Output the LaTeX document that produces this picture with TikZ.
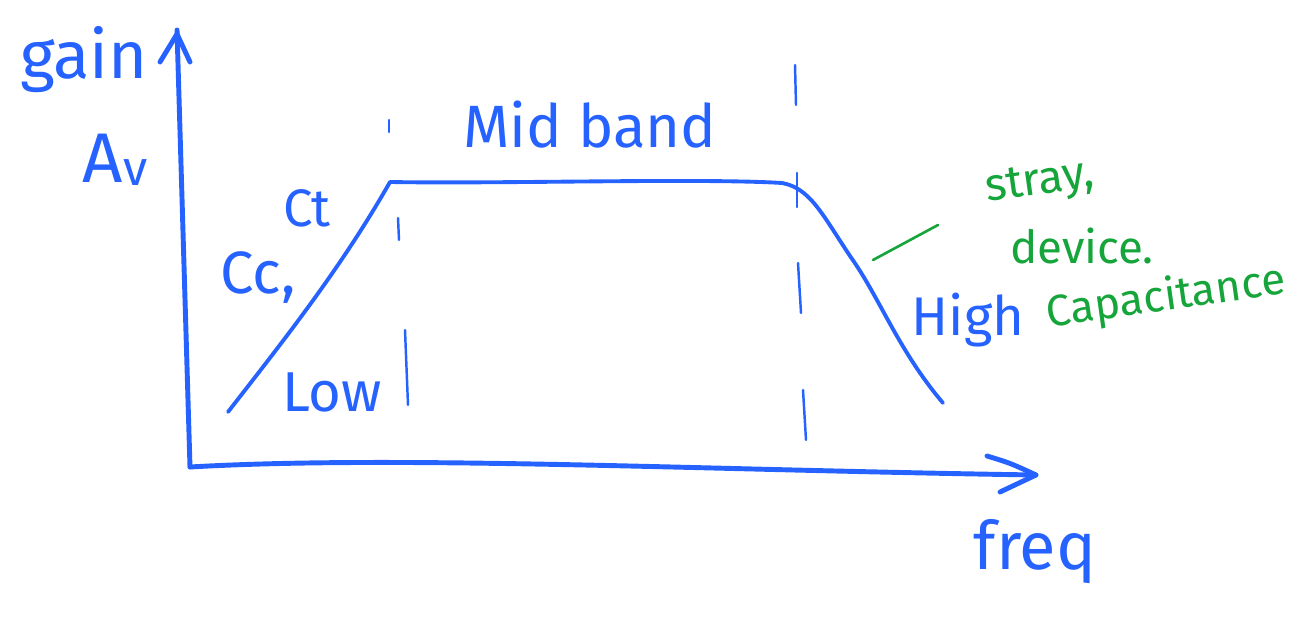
\documentclass[tikz,border=0pt]{standalone}
\usepackage{fontspec}
\setmainfont{Fira Sans}
\begin{document}
\begin{tikzpicture}[x=0.02cm,y=-0.02cm,
  ink/.style={draw=penblue,line cap=round,line join=round},
  axis/.style={ink,line width=2.8pt},
  curve/.style={ink,line width=2.2pt},
  dashmark/.style={ink,line width=1.4pt},
  bluetext/.style={text=penblue,inner sep=0pt},
  greentext/.style={text=pengreen,inner sep=0pt},
  fs/.style={font=\fontsize{#1}{#1}\selectfont}]
\definecolor{penblue}{RGB}{38,98,255}
\definecolor{pengreen}{RGB}{22,165,58}
\useasboundingbox (0,0) rectangle (1302,624);
% axes
\coordinate (O) at (190,467);
\coordinate (ytop) at (177,30);
\coordinate (xend) at (1036,475);
\draw[axis] (O) -- (ytop);
\draw[axis] (160,62) -- (177,34) -- (190,62);
\draw[axis] (O) .. controls (400,455) and (700,470) .. (xend);
\draw[axis] (987,456) .. controls (1010,463) .. (xend) -- (1000,492);
% response curve
\draw[curve] (228,412) .. controls (280,345) and (340,270) .. (390,182);
\draw[curve] (390,182) .. controls (500,184) and (700,178) .. (782,183)
  .. controls (810,188) and (822,214) .. (850,256)
  .. controls (880,298) and (898,350) .. (943,403);
% dashed verticals
\draw[dashmark] (389,120) -- (389,132);
\draw[dashmark] (398,218) -- (399,240);
\draw[dashmark] (405,330) -- (408,405);
\draw[dashmark] (795,65) -- (796,105);
\draw[dashmark] (797,173) -- (797,207);
\draw[dashmark] (798,263) -- (801,313);
\draw[dashmark] (803,390) -- (806,440);
% labels
\node[bluetext,fs=38] (gain) at (84,60) {gain};
\node[bluetext,fs=40] (Av) at (115,160) {A\raisebox{-2pt}{\fontsize{28}{28}\selectfont v}};
\node[bluetext,fs=34] (mid) at (590,125) {Mid band};
\node[bluetext,fs=34] (Cc) at (258,278) {Cc,};
\node[bluetext,fs=30] (Ct) at (307,208) {Ct};
\node[bluetext,fs=32] (low) at (332,392) {Low};
\node[bluetext,fs=31] (high) at (968,320) {High};
\node[bluetext,fs=38] (freq) at (1035,552) {freq};
\node[greentext,fs=26,rotate=8] (stray) at (1040,184) {stray,};
\node[greentext,fs=26] (device) at (1082,246) {device.};
\node[greentext,fs=25,rotate=8] (cap) at (1166,298) {Capacitance};
\coordinate (lead) at (873,260);
\draw[draw=pengreen,line width=1.5pt,line cap=round] (lead) .. controls (905,243) .. (938,225);
\end{tikzpicture}
\end{document}
